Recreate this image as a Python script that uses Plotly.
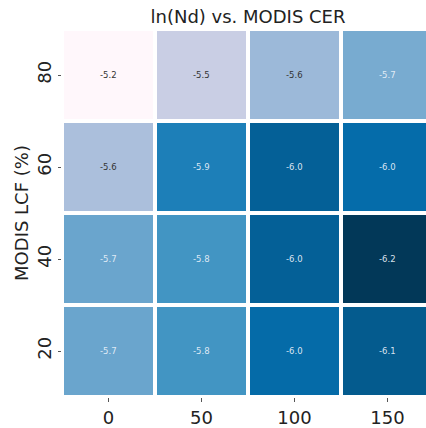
import plotly.graph_objects as go
import plotly.colors as pc

cer_labels = ["0", "50", "100", "150"]
lcf_labels = ["20", "40", "60", "80"]  # bottom to top
ln_nd = [
    [-5.72, -5.80, -5.98, -6.07],  # 20
    [-5.72, -5.80, -6.04, -6.20],  # 40
    [-5.56, -5.89, -6.04, -5.97],  # 60
    [-5.20, -5.47, -5.60, -5.69],  # 80
]
zmin, zmax = -6.2, -5.2

colors = pc.sequential.PuBu[::-1]
fig = go.Figure(go.Heatmap(
    x=cer_labels, y=lcf_labels, z=ln_nd,
    colorscale=colors, zmin=zmin, zmax=zmax,
    xgap=4, ygap=4, showscale=False, hoverinfo="skip",
))

annotations = []
for i in range(len(lcf_labels)):
    for j in range(len(cer_labels)):
        v = ln_nd[i][j]
        t = (zmax - v) / (zmax - zmin)
        col = "#333333" if t < 0.45 else "rgba(235,242,250,0.92)"
        annotations.append(dict(x=j, y=i, xref="x", yref="y", text=f"{v:.1f}", showarrow=False,
                                font=dict(size=8.5, color=col, family="DejaVu Sans")))

fig.update_layout(
    width=426, height=428,
    margin=dict(l=62, r=0, t=29, b=27),
    paper_bgcolor="white", plot_bgcolor="white",
    font=dict(family="DejaVu Sans", color="#222"),
    title=dict(text="ln(Nd) vs. MODIS CER", x=248/426, xref="container", xanchor="center",
               y=1 - 17/428, yref="container", yanchor="middle", font=dict(size=18, color="#222")),
    annotations=annotations,
)
fig.update_xaxes(type="category", range=[-0.5, -0.5 + 364/93], showgrid=False, zeroline=False,
                 ticks="outside", ticklen=4, tickcolor="#555", tickfont=dict(size=18, color="#222"))
fig.update_yaxes(type="category", range=[-0.5, 3.5], showgrid=False, zeroline=False,
                 ticks="outside", ticklen=3, tickcolor="#555", tickangle=-90,
                 tickfont=dict(size=18, color="#222"),
                 title=dict(text="MODIS LCF (%)", font=dict(size=18, color="#222"), standoff=0))
fig.write_html("out.html")
